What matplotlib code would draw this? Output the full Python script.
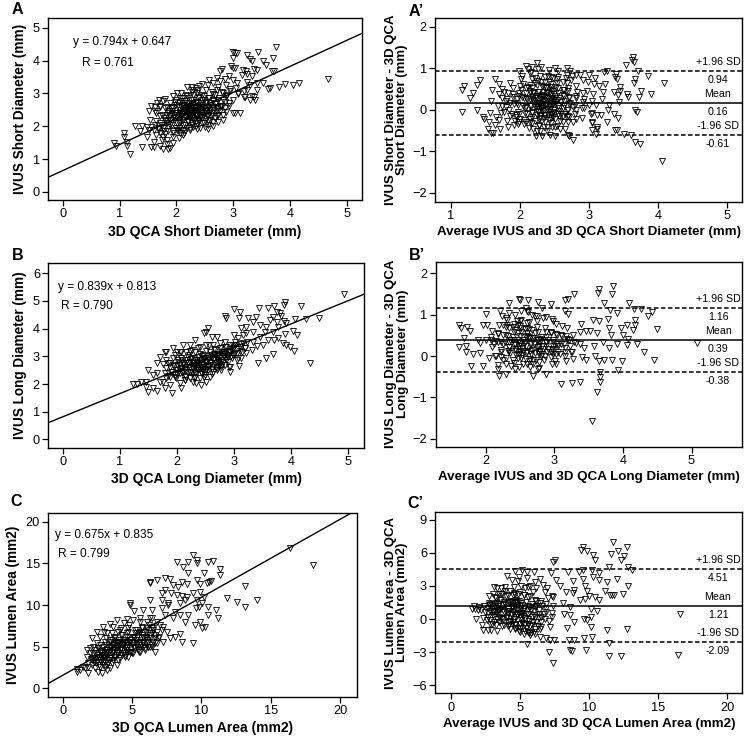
import matplotlib
matplotlib.use("Agg")
import matplotlib.pyplot as plt
import numpy as np

plt.rcParams['font.family'] = ['Liberation Sans', 'DejaVu Sans']

# ---------------- data ----------------
# Panel A: 3D QCA short diameter (x) vs IVUS short diameter (y)
qca_short = [0.91, 0.93, 1.07, 1.08, 1.13, 1.14, 1.19, 1.27, 1.36, 1.39, 1.40, 1.48, 1.51, 1.56, 1.60,
             1.63, 1.66, 1.69, 1.71, 3.00, 3.03, 3.07, 3.24, 3.44, 3.76, 3.00, 3.30, 3.33, 3.71, 3.53,
             3.58, 2.96, 2.99, 3.03, 2.80, 2.77, 3.18, 3.22, 3.36, 3.42, 3.68, 3.72, 3.15, 3.24, 3.34,
             2.92, 2.71, 2.58, 2.65, 2.77, 2.86, 3.00, 3.06, 3.24, 3.42, 3.53, 3.29, 3.91, 4.06, 4.16,
             4.68, 3.80, 3.62, 3.65, 3.42, 3.24, 3.19, 3.05, 2.95, 3.09, 3.21, 3.36, 3.39, 3.29, 3.19,
             3.00, 2.93, 3.03, 3.13, 2.77, 2.74, 2.93, 2.88, 2.82, 2.71, 2.65, 2.56, 2.46, 2.40, 2.34,
             2.27, 2.18, 2.27, 2.09, 2.01, 1.95, 1.80, 1.77, 1.71, 1.63, 1.56, 1.52, 1.65, 1.74, 1.65,
             1.54, 1.49, 1.56, 1.61, 1.68, 1.71, 1.65, 1.77, 1.83, 1.75, 1.83, 1.71, 1.60, 1.77, 1.86,
             1.89, 1.95, 2.04, 2.11, 2.15, 2.24, 2.30, 2.42, 2.51, 2.56, 2.65, 2.48, 2.40, 2.60, 2.71,
             2.83, 2.88, 3.00, 3.08, 3.34, 2.59, 2.68, 2.48, 2.39, 2.30, 2.22, 2.10, 2.04, 1.95, 1.86,
             1.80, 1.89, 1.98, 2.07, 2.15, 2.24, 2.33, 2.42, 2.51, 2.54, 2.45, 2.36, 2.27, 2.18, 2.10,
             2.01, 1.92, 1.83, 1.77, 1.86, 1.95, 2.04, 2.12, 2.21, 2.30, 2.39, 2.18, 2.12, 2.33, 2.24,
             2.15, 2.07, 1.98, 1.89, 1.80, 1.71, 1.63, 1.95, 2.07, 2.18, 2.36, 2.45, 2.54, 2.62, 2.71,
             2.80, 2.65, 2.56, 2.45, 2.36, 2.18, 2.10, 2.00, 1.89, 1.83, 1.92, 2.27, 2.36, 2.21, 2.30,
             2.12, 2.04, 2.10, 2.18, 2.24, 2.42, 2.51, 2.56, 2.39, 2.01, 2.12, 2.27, 1.95, 1.86, 1.77,
             1.92, 2.04, 2.15, 2.21, 2.30, 2.51, 2.59, 2.74, 2.82, 2.77, 2.86, 2.65, 2.74, 2.65, 2.55,
             2.36,
             # dense core
             1.75, 1.78, 1.82, 1.85, 1.88, 1.90, 1.93, 1.96, 1.98, 2.00, 2.02, 2.05, 2.06, 2.08, 2.10,
             2.12, 2.13, 2.15, 2.16, 2.18, 2.19, 2.20, 2.21, 2.22, 2.23, 2.24, 2.25, 2.26, 2.27, 2.28,
             2.29, 2.30, 2.31, 2.32, 2.33, 2.34, 2.35, 2.36, 2.37, 2.38, 2.39, 2.40, 2.41, 2.42, 2.43,
             2.44, 2.45, 2.47, 2.48, 2.50, 2.52, 2.53, 2.55, 2.57, 2.58, 2.60, 2.62, 2.64, 2.66, 2.68,
             2.70, 2.72, 2.75, 2.78, 2.80, 2.85, 2.90, 2.95, 1.70, 1.72, 1.80, 1.84, 1.94, 1.97, 2.03,
             2.07, 2.14, 2.17, 2.24, 2.28, 2.34, 2.38, 2.46, 2.52, 2.56, 2.62, 2.68, 2.74, 2.82, 2.88,
             2.00, 2.10, 2.20, 2.30, 2.40, 2.50, 2.15, 2.25, 2.35, 2.45, 2.05, 1.92, 2.60, 2.70, 2.20,
             2.32, 2.42, 2.28, 2.18, 2.08]
ivus_short = [1.48, 1.41, 1.79, 1.68, 1.53, 1.41, 1.14, 2.01, 1.84, 2.01, 1.38, 1.68, 1.89, 1.38, 1.53,
              2.45, 2.70, 2.81, 2.60, 4.27, 4.23, 4.23, 4.18, 4.26, 4.41, 4.08, 4.05, 3.98, 4.08, 3.98,
              3.88, 3.83, 3.78, 3.78, 3.74, 3.67, 3.72, 3.67, 3.74, 3.72, 3.67, 3.67, 3.57, 3.60, 3.52,
              3.54, 3.47, 3.42, 3.32, 3.39, 3.44, 3.42, 3.32, 3.34, 3.32, 3.32, 3.27, 3.30, 3.27, 3.32,
              3.44, 3.21, 3.13, 3.16, 3.11, 3.11, 3.06, 3.16, 3.06, 2.98, 2.89, 2.89, 2.81, 2.81, 2.89,
              2.81, 2.70, 2.40, 2.40, 2.47, 2.35, 2.62, 2.91, 3.01, 3.11, 2.99, 3.27, 3.29, 3.23, 3.16,
              3.19, 3.19, 3.11, 3.01, 3.01, 2.91, 2.83, 2.76, 2.62, 2.60, 2.62, 2.45, 2.40, 2.35, 2.17,
              2.19, 1.99, 1.99, 1.89, 1.94, 1.79, 1.73, 1.68, 1.58, 1.58, 1.46, 1.40, 1.38, 1.31, 1.30,
              1.33, 1.48, 1.63, 1.73, 1.84, 1.89, 1.99, 1.96, 1.99, 2.04, 2.01, 2.09, 2.17, 2.19, 2.30,
              2.19, 2.42, 2.40, 3.01, 2.91, 2.55, 2.68, 2.81, 2.86, 2.81, 2.70, 2.76, 2.60, 2.55, 2.45,
              2.55, 2.30, 2.24, 2.40, 2.50, 2.55, 2.60, 2.65, 2.60, 2.45, 2.40, 2.35, 2.40, 2.35, 2.19,
              2.09, 2.04, 2.09, 1.94, 1.84, 1.84, 1.94, 2.04, 2.14, 2.24, 2.50, 2.60, 2.65, 2.45, 2.30,
              2.27, 2.50, 2.40, 2.19, 2.19, 2.09, 2.04, 1.68, 1.79, 1.94, 2.09, 2.24, 2.30, 2.40, 2.55,
              2.62, 2.81, 2.86, 2.96, 3.01, 2.91, 2.86, 2.81, 2.70, 2.35, 2.38, 2.65, 2.70, 2.45, 2.35,
              2.45, 2.35, 2.30, 2.50, 2.38, 2.30, 2.45, 2.35, 2.55, 1.89, 1.89, 2.04, 2.24, 1.99, 1.84,
              2.60, 2.70, 2.76, 2.86, 2.96, 2.70, 2.70, 2.81, 2.81, 2.60, 2.55, 2.50, 2.14, 2.14, 1.91,
              1.91,
              # dense core
              2.05, 2.25, 2.15, 2.40, 2.05, 2.55, 2.20, 2.35, 2.65, 1.95, 2.28, 2.48, 2.12, 2.62, 2.38,
              2.20, 2.55, 2.05, 2.42, 2.72, 2.30, 2.15, 2.52, 2.38, 2.62, 2.25, 2.45, 2.80, 2.10, 2.55,
              2.33, 2.68, 2.42, 2.18, 2.58, 2.30, 2.75, 2.48, 2.22, 2.62, 2.40, 2.88, 2.52, 2.28, 2.70,
              2.45, 2.58, 2.35, 2.92, 2.50, 2.22, 2.75, 2.60, 2.40, 2.85, 2.65, 2.30, 2.78, 2.55, 2.95,
              2.70, 2.45, 2.85, 2.62, 3.05, 2.75, 2.95, 3.15, 1.90, 2.30, 1.75, 2.60, 1.78, 2.75, 1.85,
              2.85, 1.80, 2.95, 1.95, 3.05, 2.02, 3.10, 2.10, 3.10, 2.15, 3.05, 2.25, 3.20, 2.35, 3.25,
              2.40, 2.65, 2.60, 2.50, 2.20, 2.40, 2.30, 2.70, 2.55, 2.80, 2.10, 2.45, 2.50, 2.60, 2.35,
              2.45, 2.60, 2.25, 2.48, 2.32]

# Panel B: 3D QCA long diameter (x) vs IVUS long diameter (y)
qca_long = [4.93, 4.33, 4.50, 4.26, 4.07, 4.17, 3.89, 3.88, 3.70, 3.60, 3.44, 3.00, 2.84, 2.87, 3.10,
            3.09, 3.25, 3.39, 3.75, 3.80, 3.83, 3.69, 3.63, 3.75, 3.87, 3.92, 3.77, 3.57, 3.46, 3.34,
            3.22, 3.13, 3.34, 3.54, 3.69, 4.04, 4.10, 3.89, 3.77, 3.60, 3.70, 3.86, 3.92, 3.98, 4.05,
            3.51, 3.41, 3.57, 3.43, 3.69, 3.22, 3.09, 3.05, 3.23, 3.00, 3.08, 3.16, 3.02, 2.93, 2.84,
            2.75, 2.70, 2.61, 2.52, 2.54, 2.48, 2.32, 2.24, 2.11, 2.26, 2.17, 2.08, 2.00, 1.97, 1.80,
            1.70, 1.82, 1.76, 1.66, 1.65, 1.50, 1.59, 1.47, 1.50, 1.47, 1.59, 1.65, 1.79, 1.76, 1.30,
            1.24, 1.38, 1.70, 1.82, 1.88, 1.91, 2.08, 2.06, 2.14, 1.97, 2.29, 2.34, 2.40, 2.49, 2.32,
            2.23, 2.46, 2.64, 2.70, 2.78, 2.93, 2.78, 2.87, 2.96, 2.75, 2.64, 2.52, 2.40, 2.29, 2.17,
            2.08, 2.00, 1.91, 1.82, 1.93, 2.05, 2.14, 2.26, 2.37, 2.46, 2.58, 2.67, 2.78, 2.87, 2.99,
            3.10, 3.19, 3.31, 2.99, 2.90, 2.70, 2.55, 2.43, 2.35, 2.23, 2.11, 2.03, 1.93, 1.84, 1.88,
            2.00, 2.10, 2.17, 2.26, 2.35, 2.43, 2.55, 2.64, 2.72, 2.81, 2.93, 3.05, 3.13, 2.93, 2.58,
            2.52, 2.43, 2.23, 2.40, 2.32, 2.52, 2.64, 2.75, 2.84, 1.93, 1.82, 2.08, 2.20, 2.32, 2.49,
            2.61, 2.72, 2.40, 2.29, 2.17, 2.05, 1.97, 1.88, 1.79, 3.02, 3.16, 3.34, 3.46, 3.22,
            # dense core
            1.90, 1.95, 2.00, 2.02, 2.05, 2.08, 2.10, 2.12, 2.15, 2.18, 2.20, 2.22, 2.24, 2.26, 2.28,
            2.30, 2.32, 2.34, 2.36, 2.38, 2.40, 2.42, 2.44, 2.46, 2.48, 2.50, 2.52, 2.54, 2.56, 2.58,
            2.60, 2.62, 2.64, 2.66, 2.68, 2.70, 2.72, 2.74, 2.76, 2.78, 2.80, 2.82, 2.84, 2.86, 2.88,
            2.90, 2.92, 2.95, 2.98, 3.00, 3.05, 3.08, 3.12, 3.15, 3.20, 1.85, 1.88, 1.98, 2.06, 2.14,
            2.24, 2.30, 2.38, 2.48, 2.56, 2.62, 2.70, 2.78, 2.84, 2.92, 2.25, 2.35, 2.45, 2.55, 2.65,
            2.75, 2.40, 2.50, 2.60, 2.20, 2.10, 2.30, 2.45, 2.55, 2.65, 2.85, 2.95, 3.02, 3.10, 2.15,
            2.28, 2.42, 2.52, 2.68, 2.58, 2.36, 2.46, 2.72, 2.82, 2.90]
ivus_long = [5.24, 2.77, 4.40, 4.35, 4.35, 4.83, 4.95, 4.86, 4.83, 4.73, 4.73, 4.70, 4.47, 4.40, 4.59,
             4.37, 4.37, 4.43, 4.61, 4.55, 4.47, 4.43, 4.31, 4.25, 4.28, 4.19, 4.07, 4.07, 4.13, 4.23,
             4.07, 4.01, 3.89, 3.87, 3.89, 3.92, 3.77, 3.80, 3.67, 3.59, 3.59, 3.47, 3.41, 3.35, 3.19,
             3.41, 3.39, 2.93, 2.75, 3.07, 3.11, 2.66, 3.11, 3.51, 3.77, 3.67, 3.77, 3.53, 3.41, 3.35,
             3.47, 3.71, 3.71, 3.89, 4.04, 3.83, 3.59, 3.41, 3.41, 3.23, 3.17, 3.14, 3.17, 3.05, 3.17,
             2.99, 2.87, 2.72, 2.75, 2.39, 2.51, 2.33, 2.08, 1.72, 1.90, 1.84, 1.76, 1.84, 2.08, 1.99,
             1.99, 2.08, 2.08, 2.20, 1.96, 1.66, 1.84, 2.02, 2.14, 2.27, 2.08, 2.02, 2.20, 2.33, 2.27,
             2.45, 2.51, 2.45, 2.57, 2.51, 2.63, 2.69, 2.87, 2.93, 2.93, 2.87, 2.81, 2.75, 2.69, 2.63,
             2.57, 2.51, 2.45, 2.57, 2.69, 2.75, 2.87, 2.93, 2.99, 3.05, 3.17, 3.23, 3.17, 3.17, 3.29,
             3.35, 3.29, 3.23, 3.05, 2.99, 3.05, 2.93, 2.87, 2.81, 2.81, 2.75, 2.87, 2.93, 2.75, 2.63,
             2.69, 2.39, 2.27, 2.39, 2.51, 2.63, 2.63, 2.69, 2.81, 2.81, 3.17, 2.87, 2.93, 2.45, 2.27,
             2.08, 1.96, 2.20, 3.35, 3.17, 3.41, 3.41, 3.29, 3.53, 3.29, 3.17, 2.93, 2.99, 2.87, 2.93,
             2.99, 3.05, 2.57, 2.57, 2.51, 2.39, 2.33, 2.27, 2.39, 3.41, 3.47, 3.53, 3.71, 3.83,
             # dense core
             2.45, 2.65, 2.35, 2.80, 2.55, 2.95, 2.45, 2.70, 2.30, 2.85, 2.60, 3.05, 2.45, 2.75, 2.55,
             2.95, 2.40, 2.65, 2.85, 2.50, 3.10, 2.70, 2.35, 2.90, 2.60, 2.80, 3.20, 2.50, 2.95, 2.70,
             3.05, 2.55, 2.85, 3.25, 2.75, 2.95, 3.10, 2.65, 3.00, 3.30, 2.85, 3.15, 2.95, 3.35, 3.05,
             2.80, 3.20, 3.00, 3.40, 3.10, 3.25, 2.95, 3.45, 3.15, 3.30, 2.30, 2.75, 2.20, 3.15, 2.15,
             3.20, 2.20, 3.30, 2.25, 3.40, 2.35, 2.50, 2.60, 2.70, 2.60, 2.90, 2.75, 2.55, 2.65, 2.90,
             2.80, 2.85, 2.45, 2.75, 2.75, 2.85, 2.65, 3.00, 2.85, 3.10, 3.10, 3.25, 3.40, 3.20, 2.55,
             2.40, 2.45, 2.55, 2.60, 3.00, 2.60, 2.70, 2.85, 3.00, 3.05]

# Panel C: 3D QCA lumen area (x) vs IVUS lumen area (y)
qca_area = [18.08, 16.39, 13.99, 13.15, 13.15, 12.55, 11.83, 11.23, 11.06, 11.35, 11.35, 10.87, 10.50, 10.20,
            10.43, 10.58, 10.67, 9.90, 9.90, 10.20, 10.02, 9.66, 9.42, 9.66, 9.42, 9.66, 9.66, 9.06,
            9.06, 8.65, 8.22, 8.58, 8.94, 8.34, 7.98, 7.74, 7.38, 6.78, 6.30, 6.30, 7.38, 7.14,
            7.79, 8.22, 8.58, 8.94, 8.82, 8.46, 7.62, 7.62, 7.14, 6.30, 4.86, 4.86, 5.14, 5.82,
            6.42, 7.14, 7.38, 7.98, 8.46, 9.06, 8.82, 8.10, 9.54, 9.90, 10.02, 10.26, 10.50, 10.50,
            9.85, 9.61, 9.42, 8.58, 8.46, 8.10, 7.74, 7.50, 7.21, 6.78, 6.42, 6.06, 5.58, 5.10,
            4.62, 3.89, 3.65, 3.41, 2.93, 2.45, 2.09, 2.69, 3.17, 4.13, 4.74, 5.34, 5.70, 6.18,
            6.54, 6.66, 6.90, 7.26, 6.54, 6.66, 6.18, 5.82, 5.34, 5.58, 5.10, 4.62, 4.38, 3.89,
            3.53, 3.05, 2.69, 2.21, 1.97, 1.73, 1.85, 1.49, 1.06, 1.06, 1.25, 1.61, 1.85, 2.33,
            2.57, 2.81, 3.17, 3.41, 3.89, 3.65, 3.29, 2.93, 2.45, 2.21, 2.57, 2.93, 3.17, 3.53,
            3.77, 4.13, 4.50, 4.86, 5.22, 5.58, 5.94, 6.30, 6.06, 5.58, 5.10, 4.62, 4.13, 3.77,
            3.41, 3.05, 2.69, 2.33, 2.69, 3.05, 3.41, 3.89, 4.25, 4.62, 4.98, 5.34, 5.82, 6.30,
            6.42, 6.06, 5.10, 4.62, 4.25, 3.77, 3.41, 2.93, 2.57, 2.33, 1.97, 1.73, 2.09, 2.69,
            3.05, 3.65, 4.01, 4.38, 4.86, 5.22, 5.58, 4.62, 4.13, 3.53, 3.17, 2.81, 2.45, 2.81,
            3.89, 4.38, 4.74, 6.06, 6.42, 6.78, 5.82,
            # dense core
            2.04, 2.18, 2.41, 2.52, 2.63, 2.79, 2.88, 3.02, 3.13, 3.21, 3.32, 3.44, 3.51, 3.63, 3.71,
            3.82, 3.93, 4.02, 4.11, 4.23, 4.31, 4.42, 4.53, 4.61, 4.72, 4.81, 4.93, 5.04, 5.12, 5.23,
            5.31, 5.42, 5.53, 5.61, 5.72, 5.83, 5.91, 6.02, 6.13, 6.22, 6.31, 6.43, 6.52, 6.64, 6.81,
            7.02, 2.31, 2.72, 2.98, 3.34, 3.62, 3.91, 4.18, 4.52, 4.83, 5.14, 5.38, 5.71, 6.03, 3.22,
            3.48, 3.84, 4.07, 4.38, 4.69, 4.97, 2.83, 3.37, 3.98, 4.63, 5.21, 2.62, 3.04, 3.52, 4.02,
            4.48, 5.03, 5.47, 6.18, 6.62, 3.11, 3.58, 4.21, 4.79, 2.48, 3.01, 3.97, 4.42, 5.58, 6.28,
            1.82, 2.12, 2.24, 3.68, 4.27, 5.33, 5.78, 6.41, 6.92, 7.18]
ivus_area = [14.80, 16.80, 10.60, 9.80, 12.28, 10.40, 10.80, 8.40, 9.40, 13.60, 14.32, 15.32, 15.20, 13.80,
             12.60, 12.80, 12.88, 12.48, 11.60, 10.92, 10.20, 10.60, 11.40, 13.00, 16.00, 15.40, 15.00, 13.80,
             15.20, 14.60, 15.20, 12.80, 12.52, 12.20, 12.40, 13.08, 13.20, 13.00, 12.80, 12.60, 11.80, 11.40,
             11.40, 11.20, 11.08, 11.00, 10.60, 10.20, 10.28, 10.00, 10.60, 10.60, 10.20, 10.00, 9.32, 9.40,
             9.40, 9.60, 8.80, 8.40, 8.80, 8.80, 8.00, 9.20, 7.60, 8.00, 7.20, 7.32, 9.80, 8.80,
             9.80, 9.60, 5.40, 5.60, 6.52, 6.20, 6.00, 6.80, 7.40, 8.00, 8.40, 8.00, 8.40, 8.20,
             8.28, 8.20, 7.40, 7.68, 7.40, 6.80, 6.00, 6.20, 6.60, 7.00, 7.20, 7.00, 7.20, 6.60,
             7.00, 6.40, 6.00, 5.60, 5.60, 4.40, 5.00, 5.40, 5.00, 4.40, 4.20, 4.60, 5.20, 5.00,
             5.80, 5.60, 5.20, 5.00, 4.20, 3.80, 3.00, 2.60, 2.28, 2.00, 2.20, 2.40, 1.88, 2.40,
             2.00, 1.80, 2.20, 2.40, 2.80, 3.40, 3.00, 2.80, 3.20, 3.60, 4.00, 3.60, 4.00, 4.20,
             3.80, 3.60, 4.00, 4.40, 4.80, 5.00, 4.60, 5.00, 5.80, 5.60, 5.40, 5.60, 5.80, 5.40,
             5.00, 4.60, 4.40, 4.20, 3.40, 3.20, 3.60, 4.40, 4.60, 5.00, 5.20, 5.80, 6.20, 6.00,
             7.40, 7.20, 6.20, 6.20, 6.40, 6.20, 5.80, 5.00, 4.80, 4.60, 4.80, 4.60, 3.40, 2.60,
             3.80, 4.60, 5.00, 5.80, 5.60, 6.60, 6.80, 6.60, 5.40, 5.20, 4.40, 4.00, 3.80, 4.20,
             5.60, 4.20, 3.80, 5.40, 5.00, 5.40, 5.00,
             # dense core
             3.50, 4.20, 3.00, 4.80, 3.80, 4.50, 3.20, 5.20, 4.00, 2.80, 4.80, 5.60, 3.60, 4.40, 6.00,
             5.00, 4.00, 5.60, 4.60, 6.40, 5.20, 4.20, 5.80, 4.80, 6.80, 5.40, 4.40, 6.20, 5.00, 7.00,
             5.80, 4.60, 6.60, 5.20, 7.40, 6.00, 4.80, 6.80, 5.60, 7.60, 6.40, 5.20, 7.20, 6.00, 6.80,
             7.60, 3.60, 3.40, 3.80, 4.20, 5.20, 5.40, 4.80, 5.00, 5.80, 6.00, 6.20, 6.40, 6.20, 4.60,
             5.00, 4.60, 5.20, 5.60, 5.20, 5.40, 3.60, 3.40, 4.20, 4.40, 4.80, 2.80, 2.60, 3.00, 3.40,
             3.80, 4.20, 4.40, 5.00, 5.40, 6.00, 6.60, 7.20, 7.60, 5.40, 6.80, 6.80, 7.80, 8.00, 8.40,
             2.60, 2.80, 3.20, 3.80, 4.00, 5.40, 5.60, 6.60, 6.20, 7.00]

# Regression lines as printed / as drawn
eq_a = (0.794, 0.647)
eq_b = (0.839, 0.813)
line_c = (0.936, 1.57)   # line as it is drawn in panel C

# Bland-Altman limits (upper, mean, lower)
ba_a = (0.94, 0.16, -0.61)
ba_b = (1.16, 0.39, -0.38)
ba_c = (4.51, 1.21, -2.09)

W, H = 746, 736
fig = plt.figure(figsize=(W / 100, H / 100), dpi=100)


def px_axes(l, r, t, b):
    return fig.add_axes([l / W, (H - b) / H, (r - l) / W, (b - t) / H])


def style(ax, xlim, ylim, xticks, yticks):
    ax.set_xlim(*xlim)
    ax.set_ylim(*ylim)
    ax.set_xticks(xticks)
    ax.set_yticks(yticks)
    ax.tick_params(direction='out', length=4, width=0.9, labelsize=9.2, top=False, right=False, pad=2)
    for s in ax.spines.values():
        s.set_linewidth(1.0)


def scatter(ax, x, y):
    ax.plot(x, y, linestyle='none', marker='v', markersize=4.2, markerfacecolor='none',
            markeredgecolor='black', markeredgewidth=0.6)


def reg_panel(ax, x, y, line, eqtxt, rtxt, xlim, ylim, xticks, yticks, xlab, ylab, tx, ty1, ty2):
    style(ax, xlim, ylim, xticks, yticks)
    scatter(ax, x, y)
    xs = np.array(xlim)
    ax.plot(xs, line[0] * xs + line[1], color='black', lw=1.0)
    ax.text(tx[0], ty1, eqtxt, transform=ax.transAxes, fontsize=8.6, va='center', ha='left')
    ax.text(tx[1], ty2, rtxt, transform=ax.transAxes, fontsize=8.6, va='center', ha='left')
    ax.set_xlabel(xlab, fontsize=10, fontweight='bold', labelpad=3)
    ax.set_ylabel(ylab, fontsize=9.8, fontweight='bold', labelpad=4)


def ba_panel(ax, x, y, ba, xlim, ylim, xticks, yticks, xlab, ylab):
    x = np.asarray(x)
    y = np.asarray(y)
    avg = (x + y) / 2
    diff = y - x
    style(ax, xlim, ylim, xticks, yticks)
    scatter(ax, avg, diff)
    up, mean, lo = ba
    ax.axhline(up, color='black', lw=1.1, linestyle=(0, (3.0, 1.6)))
    ax.axhline(lo, color='black', lw=1.1, linestyle=(0, (3.0, 1.6)))
    ax.axhline(mean, color='black', lw=1.1)
    tx = 0.921
    for val, above, below in [(up, '+1.96 SD', f'{up:.2f}'), (mean, 'Mean', f'{mean:.2f}'),
                              (lo, '-1.96 SD', f'{lo:.2f}')]:
        ax.annotate(above, xy=(tx, val), xycoords=('axes fraction', 'data'), xytext=(0, 6.5),
                    textcoords='offset points', ha='center', va='center', fontsize=7.7)
        ax.annotate(below, xy=(tx, val), xycoords=('axes fraction', 'data'), xytext=(0, -6.5),
                    textcoords='offset points', ha='center', va='center', fontsize=7.7)
    ax.set_xlabel(xlab, fontsize=9.6, fontweight='bold', labelpad=3)
    ax.set_ylabel(ylab, fontsize=9.5, fontweight='bold', labelpad=3, linespacing=0.95)


# ---- Panel A ----
axA = px_axes(48, 362, 18, 200)
reg_panel(axA, qca_short, ivus_short, eq_a, 'y = 0.794x + 0.647', 'R = 0.761',
          (-0.26, 5.27), (-0.25, 5.3), range(0, 6), range(0, 6),
          '3D QCA Short Diameter (mm)', 'IVUS Short Diameter (mm)',
          ((73 - 48) / 314, (82 - 48) / 314), (200 - 42) / 182, (200 - 63) / 182)

# ---- Panel A' ----
axA2 = px_axes(435.3, 742.3, 18, 201.7)
ba_panel(axA2, qca_short, ivus_short, ba_a, (0.78, 5.22), (-2.22, 2.21), range(1, 6), range(-2, 3),
         'Average IVUS and 3D QCA Short Diameter (mm)',
         'IVUS Short Diameter - 3D QCA\nShort Diameter (mm)')

# ---- Panel B ----
axB = px_axes(48.3, 364, 263.3, 447.7)
reg_panel(axB, qca_long, ivus_long, eq_b, 'y = 0.839x + 0.813', 'R = 0.790',
          (-0.25, 5.28), (-0.3, 6.36), range(0, 6), range(0, 7),
          '3D QCA Long Diameter (mm)', 'IVUS Long Diameter (mm)',
          ((58 - 48.3) / 315.7, (61 - 48.3) / 315.7), (447.7 - 287) / 184.4, (447.7 - 306) / 184.4)

# ---- Panel B' ----
axB2 = px_axes(435.7, 742.3, 261.7, 446.7)
ba_panel(axB2, qca_long, ivus_long, ba_b, (1.27, 5.74), (-2.19, 2.28), range(2, 6), range(-2, 3),
         'Average IVUS and 3D QCA Long Diameter (mm)',
         'IVUS Long Diameter - 3D QCA\nLong Diameter (mm)')

# ---- Panel C ----
axC = px_axes(48.3, 357.3, 512.7, 696.7)
reg_panel(axC, qca_area, ivus_area, line_c, 'y = 0.675x + 0.835', 'R = 0.799',
          (-1.04, 21.24), (-1.0, 21.08), range(0, 21, 5), range(0, 21, 5),
          '3D QCA Lumen Area (mm2)', 'IVUS Lumen Area (mm2)',
          ((55 - 48.3) / 309, (58 - 48.3) / 309), (696.7 - 535) / 184, (696.7 - 554) / 184)

# ---- Panel C' ----
axC2 = px_axes(435.3, 742.3, 511.7, 693.3)
ba_panel(axC2, qca_area, ivus_area, ba_c, (-1.11, 21.08), (-6.75, 9.75), range(0, 21, 5), range(-6, 10, 3),
         'Average IVUS and 3D QCA Lumen Area (mm2)',
         'IVUS Lumen Area - 3D QCA\nLumen Area (mm2)')

# panel letters
for lab, x, y in [('A', 17, 9), ('A\u2019', 416, 11), ('B', 18, 256), ('B\u2019', 417, 256),
                  ('C', 16, 501), ('C\u2019', 415, 503)]:
    fig.text(x / W, 1 - y / H, lab, fontsize=11.5, fontweight='bold', ha='center', va='center')

fig.savefig('out.png', dpi=100, facecolor='white')
